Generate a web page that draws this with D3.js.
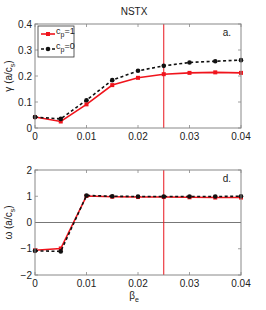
<!DOCTYPE html>
<html><head><meta charset="utf-8">
<script src="https://cdn.jsdelivr.net/npm/d3@7"></script>
<style>body{margin:0;background:#fff}svg{display:block}text{font-family:"Liberation Sans",Arial,sans-serif;fill:#222}</style>
</head><body><svg id="c" width="266" height="310"></svg>
<script>
const betaE = [0, 0.005, 0.01, 0.015, 0.02, 0.025, 0.03, 0.035, 0.04];
const gammaCp1 = [0.042, 0.025, 0.091, 0.165, 0.193, 0.207, 0.212, 0.214, 0.212];
const gammaCp0 = [0.042, 0.035, 0.107, 0.184, 0.220, 0.239, 0.252, 0.257, 0.261];
const omegaCp1 = [-1.06, -0.99, 1.01, 0.98, 0.97, 0.97, 0.96, 0.95, 0.95];
const omegaCp0 = [-1.08, -1.10, 1.03, 1.00, 0.99, 0.99, 0.99, 0.99, 1.00];
const xTicks = [0, 0.01, 0.02, 0.03, 0.04];
const gammaTicks = [0, 0.1, 0.2, 0.3, 0.4];
const omegaTicks = [-2, -1, 0, 1, 2];
const markerX = 0.025;

const svg = d3.select("#c");
const L = 35, R = 241;
const x = d3.scaleLinear().domain([0, 0.04]).range([L, R]);

function panel(y, ticks, fmt, s1, s0, label, ylab, zeroLine) {
  const g = svg.append("g");
  const [y0, y1] = y.range();
  // ticks inside
  ticks.forEach(t => {
    g.append("line").attr("x1", L).attr("x2", L + 3).attr("y1", y(t)).attr("y2", y(t)).attr("stroke", "#888").attr("stroke-width", 0.8);
    g.append("line").attr("x1", R).attr("x2", R - 3).attr("y1", y(t)).attr("y2", y(t)).attr("stroke", "#888").attr("stroke-width", 0.8);
    g.append("text").attr("x", L - 3).attr("y", y(t)).attr("dy", "0.35em").attr("text-anchor", "end").attr("font-size", 10).text(fmt(t));
  });
  xTicks.forEach(t => {
    g.append("line").attr("x1", x(t)).attr("x2", x(t)).attr("y1", y0).attr("y2", y0 - 3).attr("stroke", "#888").attr("stroke-width", 0.8);
    g.append("line").attr("x1", x(t)).attr("x2", x(t)).attr("y1", y1).attr("y2", y1 + 3).attr("stroke", "#888").attr("stroke-width", 0.8);
    g.append("text").attr("x", x(t)).attr("y", y0 + 12).attr("text-anchor", "middle").attr("font-size", 10).text(t === 0 ? "0" : String(t));
  });
  if (zeroLine) g.append("line").attr("x1", L).attr("x2", R).attr("y1", y(0)).attr("y2", y(0)).attr("stroke", "#777").attr("stroke-width", 1);
  g.append("line").attr("x1", x(markerX)).attr("x2", x(markerX)).attr("y1", y0).attr("y2", y1).attr("stroke", "#e8141c").attr("stroke-width", 1);
  const line = d3.line().x((d, i) => x(betaE[i])).y(d => y(d));
  g.append("path").datum(s1).attr("d", line).attr("fill", "none").attr("stroke", "#f0141c").attr("stroke-width", 1.6);
  g.selectAll(".p1").data(s1).enter().append("rect").attr("x", (d, i) => x(betaE[i]) - 2).attr("y", d => y(d) - 2).attr("width", 4).attr("height", 4).attr("fill", "#f0141c");
  g.append("path").datum(s0).attr("d", line).attr("fill", "none").attr("stroke", "#111").attr("stroke-width", 1.6).attr("stroke-dasharray", "3,2.5");
  g.selectAll(".p0").data(s0).enter().append("circle").attr("cx", (d, i) => x(betaE[i])).attr("cy", d => y(d)).attr("r", 2.3).attr("fill", "#111");
  g.append("rect").attr("x", L).attr("y", y1).attr("width", R - L).attr("height", y0 - y1).attr("fill", "none").attr("stroke", "#888").attr("stroke-width", 1);
  g.append("text").attr("x", R - 10).attr("y", y1 + 12).attr("text-anchor", "end").attr("font-size", 10).text(label);
  const yl = g.append("text").attr("transform", `translate(12,${(y0 + y1) / 2}) rotate(-90)`).attr("text-anchor", "middle").attr("font-size", 10);
  yl.append("tspan").text(ylab + " (a/c");
  yl.append("tspan").attr("font-size", 7).attr("dy", 3).text("s");
  yl.append("tspan").attr("dy", -3).text(")");
}

const yG = d3.scaleLinear().domain([0, 0.4]).range([128, 24]);
const yW = d3.scaleLinear().domain([-2, 2]).range([275, 170]);
panel(yG, gammaTicks, d => d === 0 ? "0" : String(d), gammaCp1, gammaCp0, "a.", "γ", false);
panel(yW, omegaTicks, d => d < 0 ? "−" + Math.abs(d) : String(d), omegaCp1, omegaCp0, "d.", "ω", true);

svg.append("text").attr("x", 134).attr("y", 15).attr("text-anchor", "middle").attr("font-size", 10).text("NSTX");
const bl = svg.append("text").attr("x", 134).attr("y", 299).attr("text-anchor", "middle").attr("font-size", 10);
bl.append("tspan").text("β");
bl.append("tspan").attr("font-size", 7).attr("dy", 3).text("e");

// legend
const lg = svg.append("g");
lg.append("rect").attr("x", 38).attr("y", 26).attr("width", 36).attr("height", 31).attr("fill", "#fff").attr("stroke", "#333").attr("stroke-width", 0.8);
lg.append("line").attr("x1", 41).attr("x2", 55).attr("y1", 34).attr("y2", 34).attr("stroke", "#f0141c").attr("stroke-width", 1.6);
lg.append("rect").attr("x", 46).attr("y", 32).attr("width", 4).attr("height", 4).attr("fill", "#f0141c");
lg.append("line").attr("x1", 41).attr("x2", 55).attr("y1", 49).attr("y2", 49).attr("stroke", "#111").attr("stroke-width", 1.6).attr("stroke-dasharray", "3,2.5");
lg.append("circle").attr("cx", 48).attr("cy", 49).attr("r", 2.3).attr("fill", "#111");
[["1", 34], ["0", 49]].forEach(([v, yy]) => {
  const t = lg.append("text").attr("x", 56).attr("y", yy).attr("font-size", 9);
  t.append("tspan").text("c");
  t.append("tspan").attr("font-size", 7).attr("dy", 3).text("p");
  t.append("tspan").attr("dy", -3).text("=" + v);
});
</script></body></html>
